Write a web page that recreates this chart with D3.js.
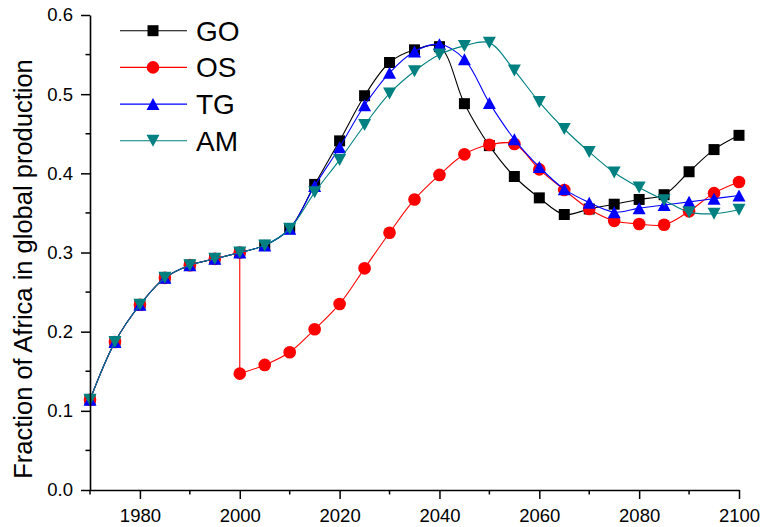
<!DOCTYPE html>
<html>
<head>
<meta charset="utf-8">
<script src="https://cdn.jsdelivr.net/npm/d3@7/dist/d3.min.js"></script>
<style>
  html, body { margin: 0; padding: 0; background: #fff; }
  svg { display: block; font-family: "Liberation Sans", Arial, sans-serif; }
</style>
</head>
<body>
<svg id="chart" width="761" height="527"></svg>
<script>
// Years sampled every five years
const years = [1970, 1975, 1980, 1985, 1990, 1995, 2000, 2005, 2010, 2015, 2020, 2025, 2030,
  2035, 2040, 2045, 2050, 2055, 2060, 2065, 2070, 2075, 2080, 2085, 2090, 2095, 2100];

// Africa's share of global production under each scenario
const goValues = [0.114, 0.187, 0.234, 0.268, 0.284, 0.292, 0.300, 0.309, 0.330,
  0.386, 0.441, 0.498, 0.540, 0.556, 0.560, 0.488, 0.435, 0.396, 0.369, 0.348,
  0.355, 0.361, 0.367, 0.373, 0.402, 0.430, 0.448];
const tgValues = [0.114, 0.187, 0.234, 0.268, 0.284, 0.292, 0.300, 0.309, 0.330,
  0.384, 0.433, 0.486, 0.527, 0.554, 0.563, 0.544, 0.489, 0.443, 0.408, 0.380,
  0.363, 0.351, 0.356, 0.360, 0.364, 0.368, 0.372];
const amValues = [0.114, 0.187, 0.234, 0.268, 0.284, 0.292, 0.300, 0.309, 0.330,
  0.376, 0.417, 0.461, 0.501, 0.529, 0.550, 0.561, 0.565, 0.530, 0.490, 0.456,
  0.427, 0.401, 0.382, 0.366, 0.351, 0.349, 0.354];

// OS drops at 2000, so that year appears twice
const osYears = [1970, 1975, 1980, 1985, 1990, 1995, 2000, 2000, 2005, 2010, 2015, 2020,
  2025, 2030, 2035, 2040, 2045, 2050, 2055, 2060, 2065, 2070, 2075, 2080, 2085, 2090, 2095, 2100];
const osValues = [0.114, 0.187, 0.234, 0.268, 0.284, 0.292, 0.300,
  0.147, 0.158, 0.174, 0.203, 0.235, 0.280, 0.325, 0.367, 0.398, 0.424, 0.436,
  0.437, 0.405, 0.379, 0.355, 0.340, 0.336, 0.335, 0.352, 0.375, 0.389];

const seriesNames = ["GO", "OS", "TG", "AM"];
const seriesColors = ["#000000", "#ff0000", "#0000ff", "#008080"];

const xTickValues = [1980, 2000, 2020, 2040, 2060, 2080, 2100];
const xMinorTicks = [1970, 1990, 2010, 2030, 2050, 2070, 2090];
const yTickValues = [0.0, 0.1, 0.2, 0.3, 0.4, 0.5, 0.6];
const yMinorTicks = [0.05, 0.15, 0.25, 0.35, 0.45, 0.55];
const yTitle = "Fraction of Africa in global production";

const svg = d3.select("#chart");
const x = d3.scaleLinear().domain([1970, 2100]).range([90, 739]);
const y = d3.scaleLinear().domain([0, 0.6]).range([490, 15]);

// Marker shapes
const triUp = { draw(ctx) { const w = 13, h = 12;
  ctx.moveTo(0, -h / 2); ctx.lineTo(w / 2, h / 2); ctx.lineTo(-w / 2, h / 2); ctx.closePath(); } };
const triDown = { draw(ctx) { const w = 13, h = 12;
  ctx.moveTo(0, h / 2); ctx.lineTo(w / 2, -h / 2); ctx.lineTo(-w / 2, -h / 2); ctx.closePath(); } };
const markerPaths = [
  d3.symbol().type(d3.symbolSquare).size(121)(),
  d3.symbol().type(d3.symbolCircle).size(125)(),
  d3.symbol().type(triUp)(),
  d3.symbol().type(triDown)()
];

const series = [
  { xs: years, ys: goValues },
  { xs: osYears, ys: osValues },
  { xs: years, ys: tgValues },
  { xs: years, ys: amValues }
];

const line = d3.line()
  .x(d => x(d[0]))
  .y(d => y(d[1]))
  .curve(d3.curveCatmullRom.alpha(0.5));

// Smooth runs between points; a repeated year is joined by a straight step
function seriesPath(pts) {
  const runs = [[pts[0]]];
  for (let k = 1; k < pts.length; k++) {
    if (pts[k][0] === pts[k - 1][0]) runs.push([pts[k]]);
    else runs[runs.length - 1].push(pts[k]);
  }
  return runs.map((r, idx) => {
    const d = line(r);
    return idx === 0 ? d : d.replace(/^M/, "L");
  }).join("");
}

series.forEach((s, i) => {
  const pts = s.xs.map((yr, k) => [yr, s.ys[k]]);
  const g = svg.append("g");
  g.append("path")
    .attr("d", seriesPath(pts))
    .attr("fill", "none")
    .attr("stroke", seriesColors[i])
    .attr("stroke-width", 1.1);
  g.selectAll("path.m").data(pts).enter().append("path")
    .attr("class", "m")
    .attr("d", markerPaths[i])
    .attr("transform", d => `translate(${x(d[0])},${y(d[1])})`)
    .attr("fill", seriesColors[i]);
});

// Axes
const tickFont = 18.5;
const xAxis = d3.axisBottom(x).tickValues(xTickValues).tickFormat(d3.format("d"))
  .tickSizeInner(9).tickSizeOuter(0).tickPadding(9.5);
const gx = svg.append("g").attr("transform", "translate(0,490)").call(xAxis);
gx.selectAll("text").attr("font-size", tickFont).attr("fill", "#000").attr("font-family", "Liberation Sans, Arial, sans-serif");
gx.selectAll("line").attr("stroke", "#000").attr("stroke-width", 1.5);
gx.select(".domain").attr("stroke", "#000").attr("stroke-width", 1.6);
gx.selectAll("line.minor").data(xMinorTicks).enter().append("line")
  .attr("class", "minor")
  .attr("x1", d => x(d)).attr("x2", d => x(d))
  .attr("y1", 0).attr("y2", 4.5)
  .attr("stroke", "#000").attr("stroke-width", 1.5);

const yAxis = d3.axisLeft(y).tickValues(yTickValues).tickFormat(d3.format(".1f"))
  .tickSizeInner(9).tickSizeOuter(0).tickPadding(8);
const gy = svg.append("g").attr("transform", "translate(90,0)").call(yAxis);
gy.selectAll("text").attr("font-size", tickFont).attr("fill", "#000").attr("font-family", "Liberation Sans, Arial, sans-serif");
gy.selectAll("line").attr("stroke", "#000").attr("stroke-width", 1.5);
gy.select(".domain").attr("stroke", "#000").attr("stroke-width", 1.6);
gy.selectAll("line.minor").data(yMinorTicks).enter().append("line")
  .attr("class", "minor")
  .attr("x1", 0).attr("x2", -4.5)
  .attr("y1", d => y(d)).attr("y2", d => y(d))
  .attr("stroke", "#000").attr("stroke-width", 1.5);

svg.append("text")
  .attr("transform", "translate(32,269) rotate(-90)")
  .attr("text-anchor", "middle")
  .attr("font-size", 25.5)
  .attr("fill", "#000")
  .text(yTitle);

// Legend
const legend = svg.append("g");
seriesNames.forEach((name, i) => {
  const ry = 30.7 + i * 36.7;
  legend.append("line")
    .attr("x1", 120).attr("x2", 187).attr("y1", ry).attr("y2", ry)
    .attr("stroke", seriesColors[i]).attr("stroke-width", 1.1);
  legend.append("path")
    .attr("d", markerPaths[i])
    .attr("transform", `translate(153,${ry})`)
    .attr("fill", seriesColors[i]);
  legend.append("text")
    .attr("x", 196).attr("y", ry + 10)
    .attr("font-size", 28)
    .attr("fill", "#000")
    .text(name);
});
</script>
</body>
</html>
